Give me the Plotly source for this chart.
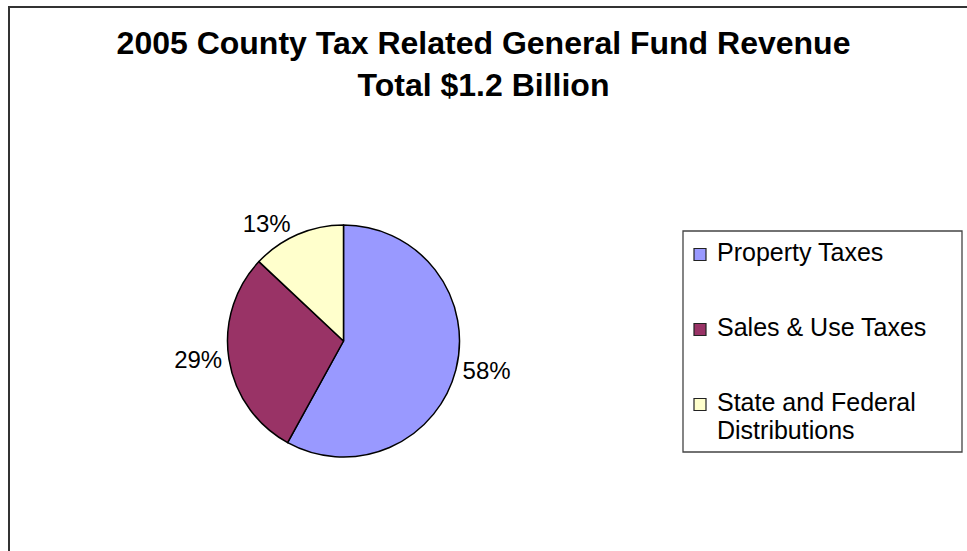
import plotly.graph_objects as go

W, H = 967, 551

# Revenue shares (percent of total)
categories = ["Property Taxes", "Sales & Use Taxes", "State and Federal Distributions"]
shares = [58, 29, 13]
slice_colors = ["#9999FF", "#993366", "#FFFFCC"]
# legend text, wrapped where the long label breaks
legend_labels = [["Property Taxes"], ["Sales & Use Taxes"], ["State and Federal", "Distributions"]]

title_lines = ["2005 County Tax Related General Fund Revenue", "Total $1.2 Billion"]

FONT = "Arial, 'Liberation Sans', sans-serif"


def px_x(px):
    return px / W


def px_y(py):
    return 1 - py / H


# pie placement in pixels
cx, cy, r = 343.5, 341.0, 116.0

fig = go.Figure()
fig.add_trace(go.Pie(
    labels=categories,
    values=shares,
    sort=False,
    direction="clockwise",
    rotation=0,
    marker=dict(colors=slice_colors, line=dict(color="#000000", width=1.5)),
    textinfo="percent",
    textposition="outside",
    outsidetextfont=dict(family=FONT, size=24, color="#000000"),
    showlegend=False,
    hoverinfo="label+percent",
    domain=dict(x=[px_x(cx - r), px_x(cx + r)], y=[px_y(cy + r), px_y(cy - r)]),
))

shapes = []
annotations = []

# outer chart frame
shapes.append(dict(type="rect", xref="paper", yref="paper",
                   x0=px_x(9), x1=px_x(W + 10), y0=px_y(H + 10), y1=px_y(7),
                   line=dict(color="#333333", width=2), fillcolor="rgba(0,0,0,0)"))

# legend frame
shapes.append(dict(type="rect", xref="paper", yref="paper",
                   x0=px_x(683), x1=px_x(962), y0=px_y(452), y1=px_y(231),
                   line=dict(color="#444444", width=1.3), fillcolor="#FFFFFF"))

# legend entries
baselines = [260.5, 335.5, 410.5]
line_gap = 28
for lines, color, base in zip(legend_labels, slice_colors, baselines):
    shapes.append(dict(type="rect", xref="paper", yref="paper",
                       x0=px_x(694), x1=px_x(706), y0=px_y(base), y1=px_y(base - 12),
                       line=dict(color="#222222", width=1.2), fillcolor=color))
    for i, txt in enumerate(lines):
        annotations.append(dict(
            text=txt, xref="paper", yref="paper",
            x=px_x(715), y=px_y(base + i * line_gap - 8.6),
            xanchor="left", yanchor="middle", showarrow=False,
            font=dict(family=FONT, size=25, color="#000000"),
        ))

fig.update_layout(
    width=W, height=H,
    margin=dict(l=0, r=0, t=0, b=0, autoexpand=False),
    paper_bgcolor="#FFFFFF",
    plot_bgcolor="#FFFFFF",
    title=dict(
        text="<b>" + "<br>".join(title_lines) + "</b>",
        x=0.5, xanchor="center", xref="paper",
        y=1 - 54 / H, yanchor="top", yref="container",
        font=dict(family=FONT, size=32, color="#000000"),
    ),
    shapes=shapes,
    annotations=annotations,
    showlegend=False,
)

fig.write_html("out.html")
